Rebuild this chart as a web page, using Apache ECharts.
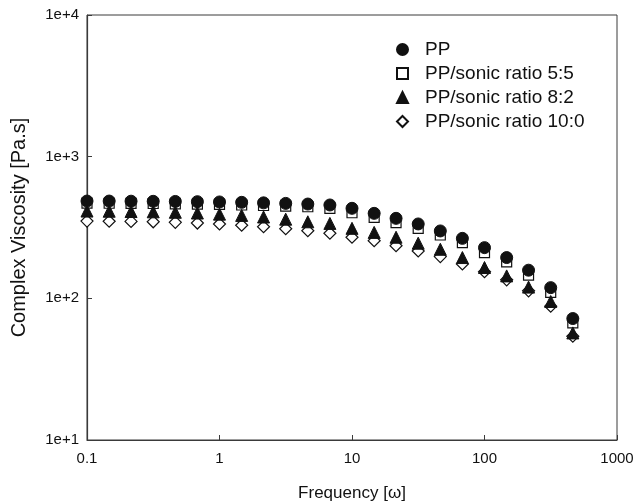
<!DOCTYPE html>
<html>
<head>
<meta charset="utf-8">
<title>Complex viscosity</title>
<script src="https://cdn.jsdelivr.net/npm/echarts@6/dist/echarts.min.js"></script>
<style>
  html, body { margin: 0; padding: 0; background: #fff; }
  #chart { width: 635px; height: 503px; }
</style>
</head>
<body>
<div id="chart"></div>
<script>
  // frequency [rad/s]
  var freq = [0.1, 0.147, 0.215, 0.316, 0.464, 0.681, 1, 1.47, 2.15, 3.16, 4.64, 6.81,
              10, 14.7, 21.5, 31.6, 46.4, 68.1, 100, 147, 215, 316, 464];
  // complex viscosity [Pa.s]
  var pp     = [486, 486, 485, 484, 483, 481, 479, 476, 472, 468, 463, 456,
                432, 398, 367, 335, 299, 265, 228, 194, 158, 119, 72];
  var ratio55 = [470, 469, 468, 467, 465, 463, 460, 456, 452, 448, 443, 432,
                 402, 373, 342, 312, 280, 247, 210, 181, 146, 110, 67];
  var ratio82 = [413, 412, 410, 408, 405, 400, 393, 385, 375, 362, 347, 338,
                 312, 292, 270, 245, 222, 194, 165, 144, 120, 95, 57];
  var ratio100 = [351, 350, 349, 347, 344, 340, 335, 328, 320, 310, 300, 288,
                  270, 255, 235, 216, 197, 175, 154, 135, 113, 88, 54];

  var names = ['PP', 'PP/sonic ratio 5:5', 'PP/sonic ratio 8:2', 'PP/sonic ratio 10:0'];

  function pairs(ys) {
    var out = [];
    for (var i = 0; i < freq.length; i++) out.push([freq[i], ys[i]]);
    return out;
  }

  var axisCol = '#3a3a3a';
  var font = '"Liberation Sans", Arial, sans-serif';

  var chart = echarts.init(document.getElementById('chart'));
  chart.setOption({
    animation: false,
    grid: {
      left: 87, right: 18, top: 15, bottom: 63,
      outerBoundsMode: 'none',
      show: true, borderColor: axisCol, borderWidth: 1, backgroundColor: 'transparent'
    },
    legend: {
      orient: 'vertical',
      left: 391,
      top: 35,
      itemGap: 5,
      itemWidth: 11,
      itemHeight: 11,
      data: names,
      textStyle: { fontFamily: font, fontSize: 19, color: '#111', padding: [0, 0, 0, 12], lineHeight: 19 }
    },
    xAxis: {
      type: 'log',
      logBase: 10,
      min: 0.1,
      max: 1000,
      name: 'Frequency [ω]',
      nameLocation: 'middle',
      nameGap: 45,
      nameTextStyle: { fontFamily: font, fontSize: 17, color: '#111' },
      axisLine: { show: true, lineStyle: { color: axisCol, width: 1.2 } },
      axisTick: { show: true, inside: true, length: 5, lineStyle: { color: axisCol } },
      axisLabel: {
        fontFamily: font, fontSize: 15, color: '#111', margin: 11,
        formatter: function (v) { return String(v); }
      },
      splitLine: { show: false }
    },
    yAxis: {
      type: 'log',
      logBase: 10,
      min: 10,
      max: 10000,
      name: 'Complex Viscosity [Pa.s]',
      nameLocation: 'middle',
      nameGap: 58,
      nameTextStyle: { fontFamily: font, fontSize: 20, color: '#111' },
      axisLine: { show: true, lineStyle: { color: axisCol, width: 1.2 } },
      axisTick: { show: true, inside: true, length: 5, lineStyle: { color: axisCol } },
      axisLabel: {
        fontFamily: font, fontSize: 15, color: '#111', margin: 8,
        formatter: function (v) { return '1e+' + Math.round(Math.log10(v)); }
      },
      splitLine: { show: false }
    },
    series: [
      {
        name: names[0], type: 'scatter', z: 4,
        symbol: 'circle', symbolSize: 12,
        itemStyle: { color: '#111', borderColor: '#111', borderWidth: 1, opacity: 1 },
        data: pairs(pp)
      },
      {
        name: names[1], type: 'scatter', z: 3,
        symbol: 'rect', symbolSize: 10,
        itemStyle: { color: '#fff', borderColor: '#111', borderWidth: 1.2, opacity: 1 },
        data: pairs(ratio55)
      },
      {
        name: names[2], type: 'scatter', z: 4,
        symbol: 'triangle', symbolSize: 12,
        itemStyle: { color: '#111', borderColor: '#111', borderWidth: 1, opacity: 1 },
        data: pairs(ratio82)
      },
      {
        name: names[3], type: 'scatter', z: 3,
        symbol: 'diamond', symbolSize: 12,
        itemStyle: { color: '#fff', borderColor: '#111', borderWidth: 1.2, opacity: 1 },
        data: pairs(ratio100)
      }
    ]
  });
</script>
</body>
</html>
